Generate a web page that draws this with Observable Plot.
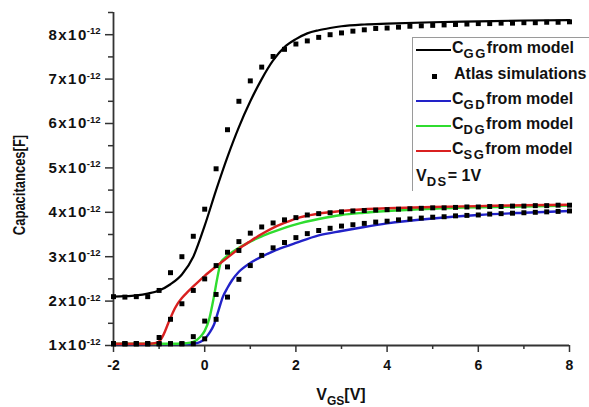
<!DOCTYPE html>
<html>
<head>
<meta charset="utf-8">
<script src="https://cdn.jsdelivr.net/npm/d3@7"></script>
<script src="https://cdn.jsdelivr.net/npm/@observablehq/plot@0.6"></script>
<style>
  body { margin: 0; background: #fff; }
  #wrap { position: relative; width: 589px; height: 407px; overflow: hidden;
          font-family: "Liberation Sans", Arial, sans-serif; }
  #wrap svg { position: absolute; left: 0; top: 0; }
  #legend { position: absolute; left: 412px; top: 37px; width: 190px; height: 153px;
            border-left: 1px solid #9a9a9a; border-top: 1px solid #9a9a9a; }
  .row { position: absolute; left: 0; height: 20px; white-space: nowrap;
         font-weight: bold; font-size: 16px; color: #111; }
  .row .swatch { position: absolute; left: 3px; top: 9px; width: 35px; height: 2.4px; }
  .row .dot { position: absolute; left: 19px; top: 8px; width: 5px; height: 5px; background: #000; }
  .row .lbl { position: absolute; left: 39px; top: -1px; }
  .row sub { font-size: 13px; vertical-align: -5px; line-height: 0; letter-spacing: 1.5px; }
</style>
</head>
<body>
<div id="wrap">
  <div id="legend">
    <div class="row" style="top:2px"><div class="swatch" style="background:#000"></div><span class="lbl">C<sub>GG</sub>from model</span></div>
    <div class="row" style="top:28px"><div class="dot"></div><span class="lbl" style="left:41px">Atlas simulations</span></div>
    <div class="row" style="top:53px"><div class="swatch" style="background:#2222c8"></div><span class="lbl">C<sub>GD</sub>from model</span></div>
    <div class="row" style="top:78px"><div class="swatch" style="background:#2fdc2f"></div><span class="lbl">C<sub>DG</sub>from model</span></div>
    <div class="row" style="top:103px"><div class="swatch" style="background:#d92020"></div><span class="lbl">C<sub>SG</sub>from model</span></div>
    <div class="row" style="top:130px"><span class="lbl" style="left:3px">V<sub>DS</sub>= 1V</span></div>
  </div>
</div>
<script>
// Gate voltage V_GS in volts; capacitances in units of 1e-12 F.

// Model curves
const cggV = [-2,-1.75,-1.5,-1.25,-1,-0.75,-0.5,-0.25,0,0.25,0.5,0.75,1,1.25,1.5,1.75,2,2.25,2.5,2.75,3,3.5,4,5,6,7,8];
const cggC = [2.10,2.11,2.13,2.17,2.24,2.38,2.60,3.00,3.70,4.50,5.25,5.92,6.50,7.00,7.42,7.72,7.90,8.03,8.10,8.15,8.19,8.23,8.25,8.28,8.30,8.32,8.33];

const cgdV = [-2,-0.5,-0.25,-0.1,0,0.1,0.2,0.3,0.4,0.5,0.6,0.75,1,1.25,1.5,1.75,2,2.5,3,3.5,4,5,6,7,8];
const cgdC = [1.03,1.03,1.04,1.08,1.15,1.28,1.46,1.78,2.10,2.30,2.47,2.66,2.86,3.00,3.12,3.22,3.31,3.48,3.58,3.67,3.75,3.86,3.94,3.99,4.03];

const cdgV = [-2,-0.6,-0.4,-0.25,-0.1,0,0.1,0.2,0.28,0.35,0.45,0.6,0.75,1,1.25,1.5,1.75,2,2.5,3,3.5,4,5,6,7,8];
const cdgC = [1.04,1.04,1.05,1.08,1.19,1.33,1.60,2.09,2.54,2.86,2.98,3.10,3.20,3.34,3.46,3.56,3.65,3.73,3.85,3.94,3.99,4.03,4.08,4.11,4.13,4.15];

const csgV = [-2,-1.5,-1.2,-1.1,-1,-0.9,-0.8,-0.7,-0.6,-0.5,-0.4,-0.25,0,0.25,0.5,0.75,1,1.25,1.5,1.75,2,2.5,3,3.5,4,5,6,7,8];
const csgC = [1.04,1.04,1.04,1.05,1.09,1.25,1.50,1.74,1.93,2.07,2.18,2.33,2.57,2.78,2.98,3.18,3.35,3.51,3.65,3.76,3.86,3.97,4.03,4.07,4.09,4.12,4.14,4.16,4.17];

// Atlas simulation points (0.25 V steps)
const atlasV = [-2,-1.75,-1.5,-1.25,-1,-0.75,-0.5,-0.25,0,0.25,0.5,0.75,1,1.25,1.5,1.75,2,2.25,2.5,2.75,3,3.25,3.5,3.75,4,4.25,4.5,4.75,5,5.25,5.5,5.75,6,6.25,6.5,6.75,7,7.25,7.5,7.75,8];
const atlasCgg = [2.10,2.09,2.10,2.10,2.24,2.64,3.00,3.46,4.07,4.98,5.86,6.50,6.96,7.27,7.51,7.67,7.79,7.86,7.94,8.00,8.04,8.08,8.11,8.14,8.15,8.17,8.19,8.20,8.21,8.22,8.23,8.24,8.25,8.25,8.26,8.26,8.27,8.27,8.28,8.28,8.29];
const atlasCgd = [1.04,1.04,1.04,1.04,1.04,1.04,1.04,1.04,1.15,1.59,2.09,2.49,2.80,3.03,3.20,3.32,3.43,3.52,3.59,3.64,3.69,3.72,3.75,3.78,3.80,3.83,3.85,3.87,3.89,3.90,3.92,3.93,3.94,3.96,3.97,3.98,3.99,4.00,4.01,4.02,4.03];
const atlasCsg = [1.04,1.04,1.04,1.04,1.18,1.59,1.94,2.24,2.50,2.80,3.10,3.34,3.53,3.67,3.76,3.83,3.88,3.94,3.97,3.99,4.01,4.03,4.04,4.05,4.06,4.07,4.08,4.09,4.10,4.10,4.11,4.12,4.12,4.13,4.13,4.14,4.14,4.15,4.15,4.16,4.16];
const atlasDgV = [-2,-1.75,-1.5,-1.25,-1,-0.75,-0.5,-0.25,0,0.25,0.5,0.75];
const atlasCdg = [1.04,1.04,1.04,1.04,1.04,1.04,1.04,1.20,1.55,2.15,2.77,3.14];

// Axis ticks
const xMajor = [-2,0,2,4,6,8];
const xMinor = [-1,1,3,5,7];
const yMajor = [1,2,3,4,5,6,7,8];
const yMinor = [1.5,2.5,3.5,4.5,5.5,6.5,7.5,8.5];

const toRows = (xs, ys) => xs.map((v, i) => ({v, c: ys[i]}));

const axisColor = "#333";
const font = "'Liberation Sans', Arial, sans-serif";

const chart = Plot.plot({
  width: 589,
  height: 407,
  marginLeft: 113,
  marginRight: 20,
  marginTop: 12,
  marginBottom: 62,
  style: {fontFamily: font, background: "transparent", color: "#111"},
  x: {domain: [-2, 8]},
  y: {domain: [1, 8.5]},
  marks: [
    Plot.axisX(xMinor, {tickSize: 4, tickFormat: () => "", stroke: axisColor, strokeWidth: 1.5, label: null}),
    Plot.axisX(xMajor, {tickSize: 7, tickPadding: 8, tickFormat: d => String(d), stroke: axisColor, strokeWidth: 1.5,
                        fontSize: 14, fontWeight: "bold", fill: "#111", label: null}),
    Plot.axisY(yMinor, {tickSize: 5, tickFormat: () => "", stroke: axisColor, strokeWidth: 1.5, label: null}),
    Plot.axisY(yMajor, {tickSize: 8, tickPadding: 5, tickFormat: d => `${d}x10`, stroke: axisColor, strokeWidth: 1.5,
                        fontSize: 15, fontWeight: "bold", fill: "#111", label: null}),
    Plot.ruleX([-2], {stroke: axisColor, strokeWidth: 1.8}),
    Plot.ruleY([1], {stroke: axisColor, strokeWidth: 1.8}),
    Plot.line(toRows(cggV, cggC), {x: "v", y: "c", stroke: "#000", strokeWidth: 2.2, curve: "monotone-x"}),
    Plot.line(toRows(cgdV, cgdC), {x: "v", y: "c", stroke: "#2222c8", strokeWidth: 2.4, curve: "monotone-x"}),
    Plot.line(toRows(cdgV, cdgC), {x: "v", y: "c", stroke: "#2fdc2f", strokeWidth: 2.4, curve: "monotone-x"}),
    Plot.line(toRows(csgV, csgC), {x: "v", y: "c", stroke: "#d92020", strokeWidth: 2.4, curve: "monotone-x"}),
    Plot.dot(toRows(atlasV, atlasCgg), {x: "v", y: "c", symbol: "square", r: 2.8, fill: "#000", stroke: "none"}),
    Plot.dot(toRows(atlasV, atlasCgd), {x: "v", y: "c", symbol: "square", r: 2.8, fill: "#000", stroke: "none"}),
    Plot.dot(toRows(atlasV, atlasCsg), {x: "v", y: "c", symbol: "square", r: 2.8, fill: "#000", stroke: "none"}),
    Plot.dot(toRows(atlasDgV, atlasCdg), {x: "v", y: "c", symbol: "square", r: 2.8, fill: "#000", stroke: "none"})
  ]
});

// Exponent on the y tick labels; the mantissa is spaced out a little
d3.select(chart).selectAll('[aria-label="y-axis tick label"] text').each(function() {
  const t = d3.select(this);
  const base = t.text();
  if (!base) return;
  t.text(null);
  t.append("tspan").attr("letter-spacing", 1.5).text(base);
  t.append("tspan").attr("dy", "-0.55em").attr("dx", -1).attr("font-size", 9.5).attr("letter-spacing", 0).text("-12");
});

// Axis titles with subscripts
const svg = d3.select(chart);
svg.append("text")
  .attr("transform", "translate(25,185) rotate(-90) scale(1,1.25)")
  .attr("text-anchor", "middle")
  .attr("font-family", font).attr("font-weight", "bold").attr("font-size", 13).attr("fill", "#111")
  .text("Capacitances[F]");
const xt = svg.append("text")
  .attr("x", 341).attr("y", 400)
  .attr("text-anchor", "middle")
  .attr("font-family", font).attr("font-weight", "bold").attr("font-size", 16).attr("fill", "#111");
xt.append("tspan").text("V");
xt.append("tspan").attr("font-size", 12).attr("dy", 5).text("GS");
xt.append("tspan").attr("dy", -5).text("[V]");

document.getElementById("wrap").prepend(chart);
</script>
</body>
</html>
